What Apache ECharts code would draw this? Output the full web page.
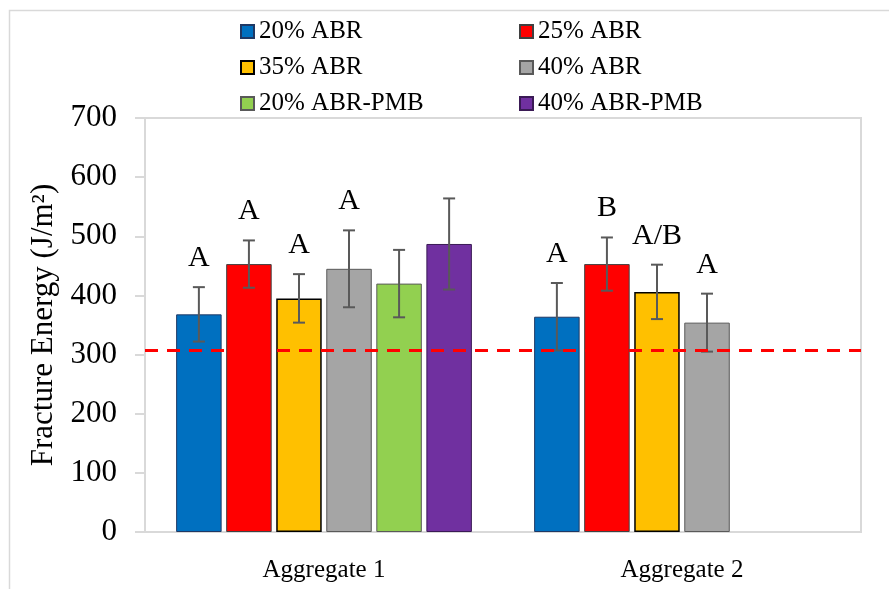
<!DOCTYPE html>
<html>
<head>
<meta charset="utf-8">
<script src="https://cdn.jsdelivr.net/npm/echarts@6/dist/echarts.min.js"></script>
<style>
  html, body { margin: 0; padding: 0; background: #fff; }
  #chart { width: 889px; height: 589px; }
</style>
</head>
<body>
<div id="chart"></div>
<script>
// Fracture energy by binder blend, two aggregate sources
const categories = ['Aggregate 1', 'Aggregate 2'];
const seriesNames = ['20% ABR', '25% ABR', '35% ABR', '40% ABR', '20% ABR-PMB', '40% ABR-PMB'];

// mean fracture energy (J/m²)
const abr20 = [368, 364];
const abr25 = [453, 453];
const abr35 = [395, 406];
const abr40 = [445, 354];
const pmb20 = [420, null];
const pmb40 = [487, null];

// standard deviation
const sdAbr20 = [46, 57];
const sdAbr25 = [40, 45];
const sdAbr35 = [41, 46];
const sdAbr40 = [65, 49];
const sdPmb20 = [57, null];
const sdPmb40 = [77, null];

// statistical grouping letters
const grpAbr20 = ['A', 'A'];
const grpAbr25 = ['A', 'B'];
const grpAbr35 = ['A', 'A/B'];
const grpAbr40 = ['A', 'A'];
const grpPmb20 = ['', ''];
const grpPmb40 = ['', ''];

// reference threshold line
const threshold = 307;

const yTicks = { min: 0, max: 700, step: 100 };

const means = [abr20, abr25, abr35, abr40, pmb20, pmb40];
const sds = [sdAbr20, sdAbr25, sdAbr35, sdAbr40, sdPmb20, sdPmb40];
const groups = [grpAbr20, grpAbr25, grpAbr35, grpAbr40, grpPmb20, grpPmb40];

const colors = ['#0070C0', '#FF0000', '#FFC000', '#A5A5A5', '#92D050', '#7030A0'];
const borders = ['#1F3864', '#404040', '#000000', '#595959', '#595959', '#3A1A55'];

const FONT = 'Liberation Serif';
const BAR_W = 45.5;
const GAP_RATIO = 0.1;
const STEP = BAR_W * (1 + GAP_RATIO);

const barSeries = seriesNames.map((name, i) => ({
  name: name,
  type: 'bar',
  xAxisIndex: 0,
  data: means[i].map(v => (v == null ? '-' : v)),
  barWidth: BAR_W,
  barGap: (GAP_RATIO * 100) + '%',
  itemStyle: { color: colors[i], borderColor: borders[i], borderWidth: i === 2 ? 1.5 : 1 },
  emphasis: { disabled: true },
  z: 2
}));

// threshold across the full plot width, on a hidden 0..1 axis
const thresholdSeries = {
  type: 'line',
  xAxisIndex: 1,
  data: [[0, threshold], [1, threshold]],
  symbol: 'none',
  silent: true,
  lineStyle: { color: '#FF0000', type: [13, 9], width: 3 },
  emphasis: { disabled: true },
  z: 5
};

// error bar + letter items: [category, series, mean, sd, letter]
const errData = [];
means.forEach((arr, si) => {
  arr.forEach((v, ci) => {
    if (v != null) errData.push([ci, si, v, sds[si][ci], groups[si][ci]]);
  });
});

const errSeries = {
  type: 'custom',
  xAxisIndex: 0,
  data: errData,
  z: 4,
  silent: true,
  encode: { x: 0, y: 2 },
  renderItem: function (params, api) {
    const ci = api.value(0);
    const si = api.value(1);
    const m = api.value(2);
    const sd = api.value(3);
    const letter = errData[params.dataIndex][4];
    const base = api.coord([ci, m]);
    const x = base[0] + (si - (seriesNames.length - 1) / 2) * STEP;
    const yTop = api.coord([ci, m + sd])[1];
    const yBot = api.coord([ci, m - sd])[1];
    const cap = 6;
    const ls = { stroke: '#595959', lineWidth: 2 };
    const children = [
      { type: 'line', shape: { x1: x, y1: yTop, x2: x, y2: yBot }, style: ls },
      { type: 'line', shape: { x1: x - cap, y1: yTop, x2: x + cap, y2: yTop }, style: ls },
      { type: 'line', shape: { x1: x - cap, y1: yBot, x2: x + cap, y2: yBot }, style: ls }
    ];
    if (letter) {
      children.push({
        type: 'text',
        style: {
          x: x, y: yTop - 14, text: letter,
          font: '30px "' + FONT + '"', fill: '#000',
          align: 'center', verticalAlign: 'bottom'
        }
      });
    }
    return { type: 'group', children: children };
  }
};

const legendText = { fontFamily: FONT, fontSize: 25, color: '#000', lineHeight: 24 };
const legendBase = {
  orient: 'vertical', top: 14,
  icon: 'rect',
  itemWidth: 13, itemHeight: 13, itemGap: 11,
  textStyle: legendText, selectedMode: false
};

const option = {
  animation: false,
  backgroundColor: '#fff',
  textStyle: { fontFamily: FONT },
  graphic: [{
    type: 'rect',
    silent: true,
    shape: { x: 9.5, y: 10.5, width: 900, height: 600 },
    style: { fill: 'none', stroke: '#d9d9d9', lineWidth: 1.5 }
  }],
  legend: [
    Object.assign({ data: [seriesNames[0], seriesNames[2], seriesNames[4]], left: 235 }, legendBase),
    Object.assign({ data: [seriesNames[1], seriesNames[3], seriesNames[5]], left: 514 }, legendBase)
  ],
  grid: {
    left: 145, right: 28, top: 118, bottom: 57,
    show: true, borderColor: '#d9d9d9', borderWidth: 2,
    outerBoundsMode: 'none'
  },
  xAxis: [
    {
      type: 'category',
      data: categories,
      axisLine: { show: true, lineStyle: { color: '#d9d9d9', width: 2 } },
      axisTick: { show: false },
      axisLabel: { fontFamily: FONT, fontSize: 25, color: '#000', margin: 26 },
      splitLine: { show: false }
    },
    {
      type: 'value',
      min: 0, max: 1,
      show: false,
      splitLine: { show: false }
    }
  ],
  yAxis: {
    type: 'value',
    min: yTicks.min, max: yTicks.max, interval: yTicks.step,
    name: 'Fracture Energy (J/m²)',
    nameLocation: 'middle',
    nameGap: 85,
    nameRotate: 90,
    nameTextStyle: { fontFamily: FONT, fontSize: 31, color: '#000' },
    axisLine: { show: true, lineStyle: { color: '#d9d9d9', width: 2 } },
    axisTick: { show: true, inside: false, length: 10, lineStyle: { color: '#d9d9d9', width: 2 } },
    axisLabel: { fontFamily: FONT, fontSize: 31, color: '#000', margin: 28 },
    splitLine: { show: false }
  },
  series: barSeries.concat([errSeries, thresholdSeries])
};

const chart = echarts.init(document.getElementById('chart'), null, { renderer: 'canvas' });
chart.setOption(option);
</script>
</body>
</html>
